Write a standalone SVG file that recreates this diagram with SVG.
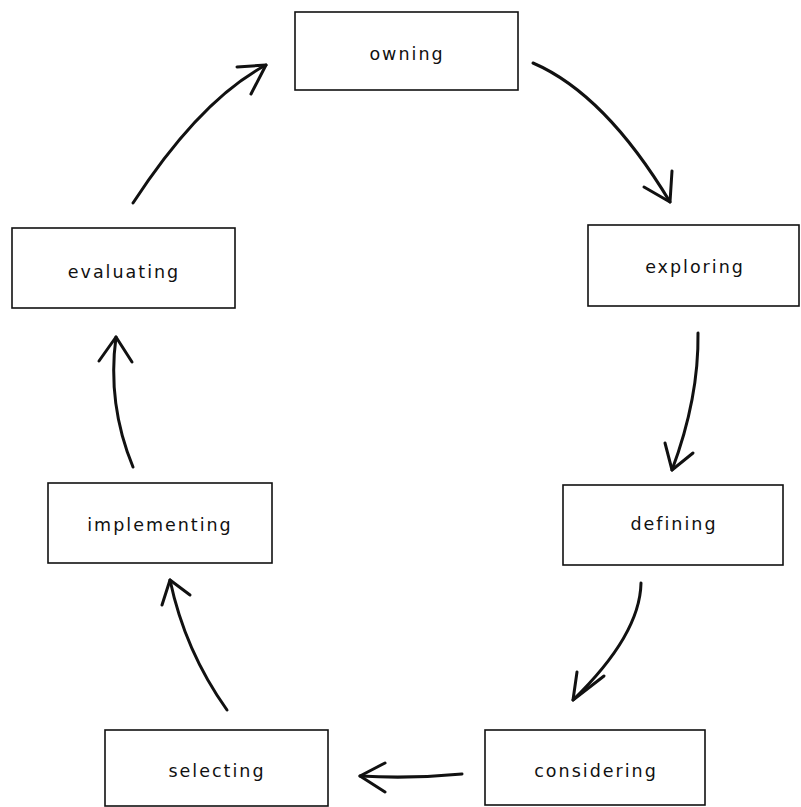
<svg xmlns="http://www.w3.org/2000/svg" width="801" height="807" viewBox="0 0 801 807">
<style>
.box{fill:#fff;stroke:#111;stroke-width:1.6}
.lbl{font-family:"DejaVu Sans",sans-serif;font-size:17.5px;letter-spacing:2px;fill:#111;text-anchor:middle}
.arr{fill:none;stroke:#111;stroke-width:3;stroke-linecap:round;stroke-linejoin:round}
</style>
<rect width="801" height="807" fill="#fff"/>
<g id="owning"><rect class="box" x="295" y="12" width="223" height="78"/><text class="lbl" x="407" y="60">owning</text></g>
<g id="exploring"><rect class="box" x="588" y="225" width="211" height="81"/><text class="lbl" x="695" y="273">exploring</text></g>
<g id="defining"><rect class="box" x="563" y="485" width="220" height="80"/><text class="lbl" x="674" y="530">defining</text></g>
<g id="considering"><rect class="box" x="485" y="730" width="220" height="75"/><text class="lbl" x="596" y="777">considering</text></g>
<g id="selecting"><rect class="box" x="105" y="730" width="223" height="76"/><text class="lbl" x="217" y="777">selecting</text></g>
<g id="implementing"><rect class="box" x="48" y="483" width="224" height="80"/><text class="lbl" x="160" y="531">implementing</text></g>
<g id="evaluating"><rect class="box" x="12" y="228" width="223" height="80"/><text class="lbl" x="124" y="278">evaluating</text></g>
<g id="connectors">
<path class="arr" d="M133,203 Q200,100 266,65"/><polyline class="arr" points="237,67 266,65 251,94"/>
<path class="arr" d="M533,63 Q605,94 670,202"/><polyline class="arr" points="644,187 670,202 672,171"/>
<path class="arr" d="M698,333 Q699,398 672,470"/><polyline class="arr" points="665,443 672,470 693,453"/>
<path class="arr" d="M641,583 Q640,635 573,700"/><polyline class="arr" points="577,672 573,700 604,676"/>
<path class="arr" d="M462,774 Q410,779 360,776"/><polyline class="arr" points="385,763 360,776 385,792"/>
<path class="arr" d="M227,710 Q185,651 170,580"/><polyline class="arr" points="162,605 170,580 190,595"/>
<path class="arr" d="M133,467 Q107,404 116,337"/><polyline class="arr" points="99,361 116,337 132,362"/>
</g>
</svg>
